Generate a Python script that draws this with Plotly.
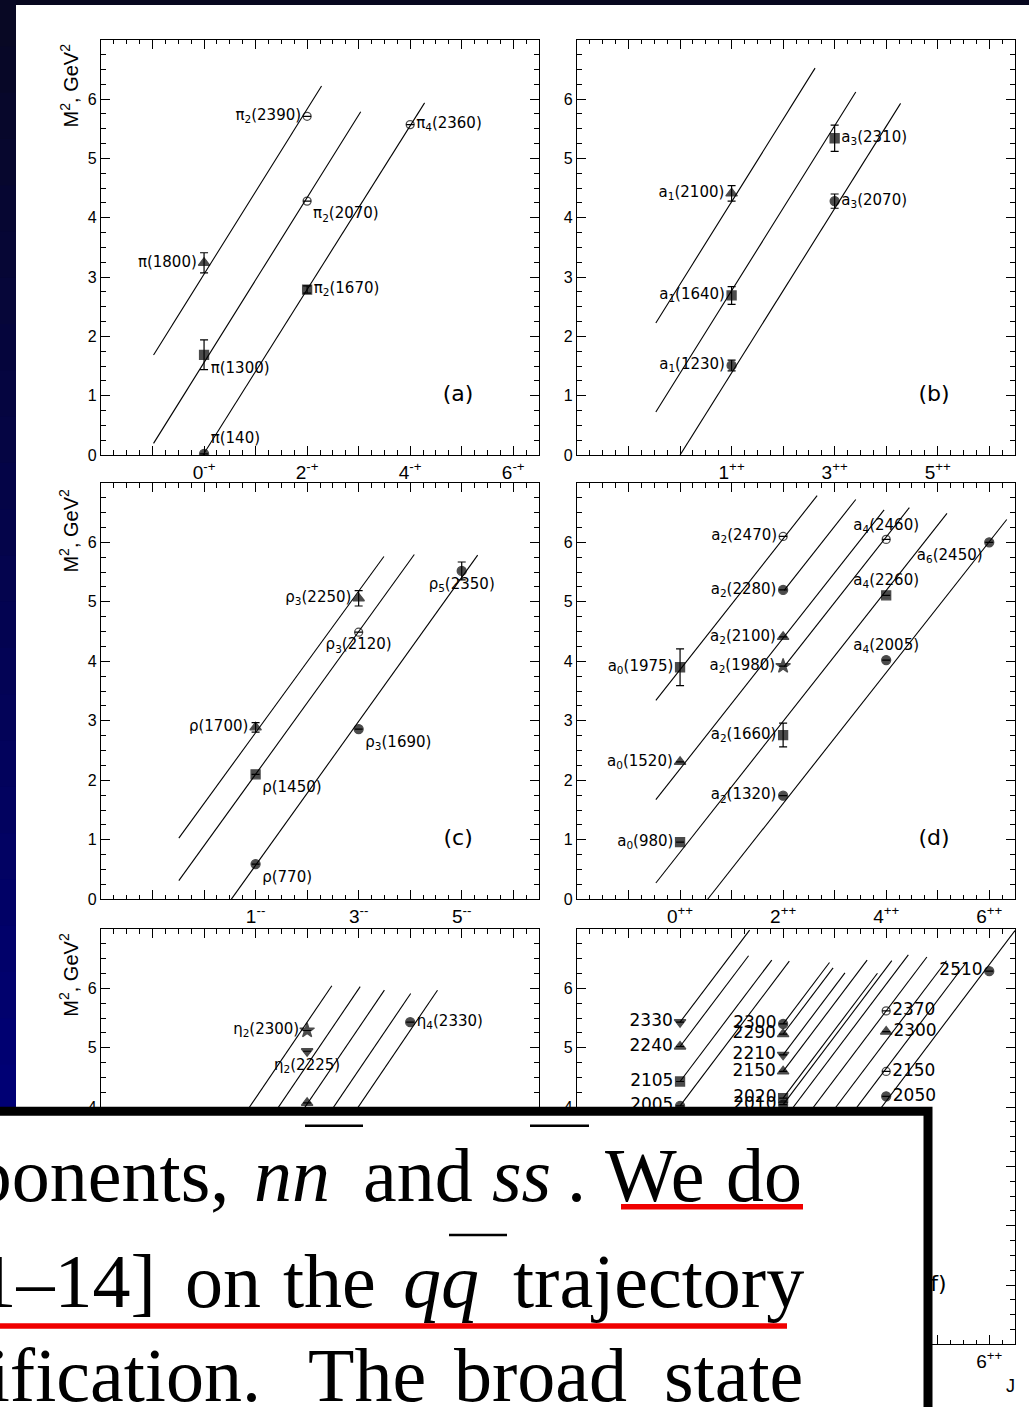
import plotly.graph_objects as go

W, H = 1029, 1407

# ---------------------------------------------------------------- data
# (a) pion states, J^PC = even^-+
a_J = [0, 0, 0, 2, 2, 2, 4]
a_M2 = [0.02, 1.69, 3.24, 2.79, 4.28, 5.71, 5.57]
a_err = [None, 0.25, 0.17, 0.06, None, None, None]
a_names = ["π(140)", "π(1300)", "π(1800)", "π<sub>2</sub>(1670)",
           "π<sub>2</sub>(2070)", "π<sub>2</sub>(2390)", "π<sub>4</sub>(2360)"]
a_traj_c = [3.05, 1.56, 0.03]
a_traj_s = [1.39, 1.39, 1.38]
a_traj_from = [-0.98, -0.98, -0.02]
a_traj_to = [2.28, 3.04, 4.28]

# (b) a1 / a3 states, J^PC = odd^++
b_J = [1, 1, 1, 3, 3]
b_M2 = [1.51, 2.69, 4.41, 4.28, 5.34]
b_err = [0.09, 0.15, 0.13, 0.12, 0.22]
b_names = ["a<sub>1</sub>(1230)", "a<sub>1</sub>(1640)", "a<sub>1</sub>(2100)",
           "a<sub>3</sub>(2070)", "a<sub>3</sub>(2310)"]
b_traj_c = [2.88, 1.38, 0.0]
b_traj_s = [1.39, 1.39, 1.385]
b_traj_from = [-0.47, -0.47, 0.0]
b_traj_to = [2.62, 3.41, 4.28]

# (c) rho states, J^PC = odd^--
c_J = [1, 1, 1, 3, 3, 3, 5]
c_M2 = [0.59, 2.10, 2.89, 2.86, 4.49, 5.06, 5.52]
c_err = [None, None, 0.08, None, None, 0.13, 0.15]
c_names = ["ρ(770)", "ρ(1450)", "ρ(1700)", "ρ<sub>3</sub>(1690)",
           "ρ<sub>3</sub>(2120)", "ρ<sub>3</sub>(2250)", "ρ<sub>5</sub>(2350)"]
c_traj_c = [1.61, 0.90, -0.64]
c_traj_s = [1.19, 1.20, 1.21]
c_traj_from = [-0.49, -0.49, 0.53]
c_traj_to = [3.49, 4.08, 5.31]

# (d) a0 / a2 / a4 / a6 states, J^PC = even^++
d_J = [0, 0, 0, 2, 2, 2, 2, 2, 2, 4, 4, 4, 6]
d_M2 = [0.96, 2.31, 3.90, 1.74, 2.76, 3.92, 4.41, 5.20, 6.10, 4.02, 5.11, 6.05, 6.00]
d_err = [None, None, 0.31, None, 0.20, None, None, None, None, None, None, None, None]
d_names = ["a<sub>0</sub>(980)", "a<sub>0</sub>(1520)", "a<sub>0</sub>(1975)",
           "a<sub>2</sub>(1320)", "a<sub>2</sub>(1660)", "a<sub>2</sub>(1980)",
           "a<sub>2</sub>(2100)", "a<sub>2</sub>(2280)", "a<sub>2</sub>(2470)",
           "a<sub>4</sub>(2005)", "a<sub>4</sub>(2260)", "a<sub>4</sub>(2460)",
           "a<sub>6</sub>(2450)"]
d_traj_c = [3.86, 2.97, 2.19, 1.69, 0.79, -0.59]
d_traj_s = [1.10, 1.10, 1.10, 1.10, 1.10, 1.10]
d_traj_from = [-0.47, 2.02, -0.47, 2.02, -0.47, 0.536]
d_traj_to = [2.66, 3.41, 3.96, 4.45, 5.18, 6.34]

# (e) eta states, J^PC = even^-+
e_J = [2, 2, 2, 4]
e_M2 = [5.29, 4.94, 4.07, 5.43]
e_err = [None, None, None, None]
e_names = ["η<sub>2</sub>(2300)", "η<sub>2</sub>(2225)", "", "η<sub>4</sub>(2330)"]
e_traj_c = [2.87, 2.15, 1.49, 0.78, 0.17]
e_traj_s = [1.28, 1.28, 1.28, 1.28, 1.28]
e_traj_from = [-0.5, 0.0, 0.4, 1.0, 1.5]
e_traj_to = [2.48, 3.03, 3.50, 4.01, 4.53]

# (f) f-meson states, J^PC = even^++ (labelled by mass, MeV)
f_J = [0, 0, 0, 0, 2, 2, 2, 2, 2, 2, 4, 4, 4, 4, 6]
f_M2 = [5.43, 5.02, 4.43, 4.02, 5.40, 5.23, 4.88, 4.60, 4.15, 4.04,
        5.62, 5.27, 4.60, 4.18, 6.29]
f_err = [None] * 15
f_names = ["2330", "2240", "2105", "2005", "2300", "2290", "2210", "2150",
           "2020", "2010", "2370", "2300", "2150", "2050", "2510"]
f_traj_c = [5.43, 5.02, 4.43, 4.02, 3.10, 2.93, 2.58, 2.30, 1.85, 1.74,
            1.47, 1.02, 0.52, 0.05, -0.50]
f_traj_s = [1.15] * 15
f_traj_from = [0, 0, 0, 0, 2, 2, 2, 2, 2, 2, 1.5, 1.5, 2.0, 2.5, 3.0]
f_traj_to = [1.35, 1.33, 1.78, 2.12, 2.90, 2.97, 3.20, 3.63, 3.83, 4.11,
             4.43, 4.79, 5.17, 5.56, 6.50]

# x tick labels (J^PC)
a_xticks = {0: "0<sup>-+</sup>", 2: "2<sup>-+</sup>", 4: "4<sup>-+</sup>", 6: "6<sup>-+</sup>"}
b_xticks = {1: "1<sup>++</sup>", 3: "3<sup>++</sup>", 5: "5<sup>++</sup>"}
c_xticks = {1: "1<sup>--</sup>", 3: "3<sup>--</sup>", 5: "5<sup>--</sup>"}
d_xticks = {0: "0<sup>++</sup>", 2: "2<sup>++</sup>", 4: "4<sup>++</sup>", 6: "6<sup>++</sup>"}
e_xticks = {0: "0<sup>-+</sup>", 2: "2<sup>-+</sup>", 4: "4<sup>-+</sup>", 6: "6<sup>-+</sup>"}
f_xticks = {0: "0<sup>++</sup>", 2: "2<sup>++</sup>", 4: "4<sup>++</sup>", 6: "6<sup>++</sup>"}
y_ticks = ["0", "1", "2", "3", "4", "5", "6", ""]

# ---------------------------------------------------------------- styles
a_sym = ["circle", "square", "triangle-up", "square", "circle-open", "circle-open", "circle-open"]
a_pos = ["top right", "bottom right", "middle left", "middle right", "bottom right",
         "middle left", "middle right"]
b_sym = ["circle", "square", "triangle-up", "circle", "square"]
b_pos = ["middle left", "middle left", "middle left", "middle right", "middle right"]
c_sym = ["circle", "square", "triangle-up", "circle", "circle-open", "triangle-up", "circle"]
c_pos = ["bottom right", "bottom right", "middle left", "bottom right", "bottom center",
         "middle left", "bottom center"]
d_sym = ["square", "triangle-up", "square", "circle", "square", "star", "triangle-up",
         "circle", "circle-open", "circle", "square", "circle-open", "circle"]
d_pos = ["middle left"] * 9 + ["top center", "top center", "top center", "bottom left"]
e_sym = ["star", "triangle-down", "triangle-up", "circle"]
e_pos = ["middle left", "bottom center", "middle left", "middle right"]
f_sym = ["triangle-down", "triangle-up", "square", "circle",
         "circle", "triangle-up", "triangle-down", "triangle-up", "square", "circle",
         "circle-open", "triangle-up", "circle-open", "circle", "circle"]
f_pos = ["middle left"] * 10 + ["middle right"] * 4 + ["middle left"]

# panel frames in pixels: (left, right, top, bottom)
COLS = [(101, 539), (577, 1015)]
ROWS = [(40, 458), (486, 905), (935, 1353)]

panels = [
    dict(tag="(a)", J=a_J, M2=a_M2, err=a_err, names=a_names, sym=a_sym, pos=a_pos,
         tc=a_traj_c, ts=a_traj_s, tf=a_traj_from, tt=a_traj_to, xt=a_xticks,
         col=0, row=0, fs=15),
    dict(tag="(b)", J=b_J, M2=b_M2, err=b_err, names=b_names, sym=b_sym, pos=b_pos,
         tc=b_traj_c, ts=b_traj_s, tf=b_traj_from, tt=b_traj_to, xt=b_xticks,
         col=1, row=0, fs=15),
    dict(tag="(c)", J=c_J, M2=c_M2, err=c_err, names=c_names, sym=c_sym, pos=c_pos,
         tc=c_traj_c, ts=c_traj_s, tf=c_traj_from, tt=c_traj_to, xt=c_xticks,
         col=0, row=1, fs=15),
    dict(tag="(d)", J=d_J, M2=d_M2, err=d_err, names=d_names, sym=d_sym, pos=d_pos,
         tc=d_traj_c, ts=d_traj_s, tf=d_traj_from, tt=d_traj_to, xt=d_xticks,
         col=1, row=1, fs=15),
    dict(tag="(e)", J=e_J, M2=e_M2, err=e_err, names=e_names, sym=e_sym, pos=e_pos,
         tc=e_traj_c, ts=e_traj_s, tf=e_traj_from, tt=e_traj_to, xt=e_xticks,
         col=0, row=2, fs=15),
    dict(tag="(f)", J=f_J, M2=f_M2, err=f_err, names=f_names, sym=f_sym, pos=f_pos,
         tc=f_traj_c, ts=f_traj_s, tf=f_traj_from, tt=f_traj_to, xt=f_xticks,
         col=1, row=2, fs=17),
]

SIZE = {"circle": 9, "square": 9, "triangle-up": 10, "triangle-down": 10,
        "circle-open": 8, "star": 11}


def pxx(x):
    return x / W


def pxy(y):
    return 1 - y / H


fig = go.Figure()
layout = dict(width=W, height=H, margin=dict(l=0, r=0, t=0, b=0), autosize=False,
              paper_bgcolor="white", plot_bgcolor="white", showlegend=False)

for i, p in enumerate(panels):
    n = "" if i == 0 else str(i + 1)
    xa, ya = "x" + n, "y" + n
    l, r = COLS[p["col"]]
    t, b = ROWS[p["row"]]

    # trajectories
    lx, ly = [], []
    for c, s, j0, j1 in zip(p["tc"], p["ts"], p["tf"], p["tt"]):
        lx += [j0, j1, None]
        ly += [c + s * j0, c + s * j1, None]
    fig.add_trace(go.Scatter(x=lx, y=ly, mode="lines", xaxis=xa, yaxis=ya,
                             line=dict(color="black", width=1.1), hoverinfo="skip"))

    # resonances
    fig.add_trace(go.Scatter(
        x=p["J"], y=p["M2"], mode="markers+text", xaxis=xa, yaxis=ya,
        text=p["names"], textposition=p["pos"],
        textfont=dict(family="DejaVu Sans", size=p["fs"], color="black"),
        marker=dict(symbol=p["sym"], size=[SIZE[s] for s in p["sym"]], color="black",
                    line=dict(color="black", width=1.3)),
        error_y=dict(type="data", array=p["err"], visible=True, color="black",
                     thickness=1.2, width=4),
        hoverinfo="skip"))

    # panel tag
    fig.add_trace(go.Scatter(x=[4.93], y=[1.0], mode="text", text=[p["tag"]],
                             xaxis=xa, yaxis=ya, textposition="middle center",
                             textfont=dict(family="DejaVu Sans", size=22, color="black"),
                             hoverinfo="skip"))

    tickvals = list(range(-2, 7))
    ticktext = [p["xt"].get(v, "") for v in tickvals]
    layout["xaxis" + n] = dict(
        domain=[pxx(l), pxx(r)], range=[-2, 6.5], anchor=ya,
        showline=True, linecolor="black", linewidth=1.4, mirror="allticks",
        ticks="inside", ticklen=9, tickwidth=1.2, tickcolor="black",
        tickmode="array", tickvals=tickvals, ticktext=ticktext,
        tickfont=dict(family="Liberation Sans", size=19, color="black"),
        showgrid=False, zeroline=False, fixedrange=True,
        minor=dict(tickmode="linear", tick0=0, dtick=0.25, ticks="inside",
                   ticklen=4.5, tickwidth=1, tickcolor="black", showgrid=False))
    layout["yaxis" + n] = dict(
        domain=[pxy(b), pxy(t)], range=[0, 7], anchor=xa,
        showline=True, linecolor="black", linewidth=1.4, mirror="allticks",
        ticks="inside", ticklen=9, tickwidth=1.2, tickcolor="black",
        tickmode="array", tickvals=list(range(0, 8)), ticktext=y_ticks,
        tickfont=dict(family="Liberation Sans", size=16, color="black"),
        showgrid=False, zeroline=False, fixedrange=True,
        minor=dict(tickmode="linear", tick0=0, dtick=0.25, ticks="inside",
                   ticklen=4.5, tickwidth=1, tickcolor="black", showgrid=False))

shapes = []
# slide border: dark top band and shaded left strip
shapes.append(dict(type="rect", xref="paper", yref="paper", layer="below",
                   x0=0, x1=1, y0=pxy(5), y1=1, fillcolor="#07071f", line_width=0))
steps = 24
for k in range(steps):
    f0 = k / steps
    y0, y1 = 1118 * k / steps, 1118 * (k + 1) / steps + 2
    rr = int(8 - 8 * f0)
    gg = int(8 - 8 * f0)
    bb = int(36 + 84 * f0)
    shapes.append(dict(type="rect", xref="paper", yref="paper", layer="below",
                       x0=0, x1=pxx(16), y0=pxy(y1), y1=pxy(y0),
                       fillcolor=f"rgb({rr},{gg},{bb})", line_width=0))

# quoted text box over the lower part of the figure
shapes.append(dict(type="rect", xref="paper", yref="paper", layer="above",
                   x0=pxx(-30), x1=pxx(928), y0=pxy(1460), y1=pxy(1118.5),
                   fillcolor="white", line=dict(color="black", width=9)))
for x0, x1, y in [(305, 363, 1133), (530, 589, 1133), (449, 507, 1243)]:
    shapes.append(dict(type="line", xref="paper", yref="paper", layer="above",
                       x0=pxx(x0), x1=pxx(x1), y0=pxy(y), y1=pxy(y),
                       line=dict(color="black", width=2.5)))
for x0, x1, y in [(621, 803, 1214.5), (-5, 787, 1334.5)]:
    shapes.append(dict(type="line", xref="paper", yref="paper", layer="above",
                       x0=pxx(x0), x1=pxx(x1), y0=pxy(y), y1=pxy(y),
                       line=dict(color="#f00000", width=5.5)))
layout["shapes"] = shapes

annotations = []
for yc in (86, 534, 981):
    annotations.append(dict(xref="paper", yref="paper", x=pxx(69), y=pxy(yc),
                            text="M<sup>2</sup>, GeV<sup>2</sup>", textangle=-90,
                            showarrow=False, xanchor="center", yanchor="middle",
                            font=dict(family="Liberation Sans", size=20, color="black")))
annotations.append(dict(xref="paper", yref="paper", x=pxx(1010), y=pxy(1395),
                        text="J", showarrow=False, xanchor="center", yanchor="middle",
                        font=dict(family="Liberation Sans", size=18, color="black")))

FS = 76
passage = [
    ("components,", 230, 1208, "right"), ("<i>nn</i>", 253, 1208, "left"),
    ("and", 362, 1208, "left"), ("<i>ss</i>", 491, 1208, "left"),
    (".", 566, 1208, "left"), ("We", 604, 1208, "left"), ("do", 725, 1208, "left"),
    ("[11–14]", 157, 1315, "right"), ("on", 184, 1315, "left"),
    ("the", 282, 1315, "left"), ("<i>qq</i>", 402, 1315, "left"),
    ("trajectory", 512, 1315, "left"),
    ("classification.", 262, 1410, "right"), ("The", 307, 1410, "left"),
    ("broad", 453, 1410, "left"), ("state", 663, 1410, "left"),
]
for txt, x, base, anc in passage:
    annotations.append(dict(xref="paper", yref="paper", x=pxx(x), y=pxy(base - 0.3375 * FS),
                            text=txt, showarrow=False, xanchor=anc, yanchor="middle",
                            borderpad=0,
                            font=dict(family="Liberation Serif", size=FS, color="black")))
layout["annotations"] = annotations

fig.update_layout(**layout)
fig.write_html("out.html")
